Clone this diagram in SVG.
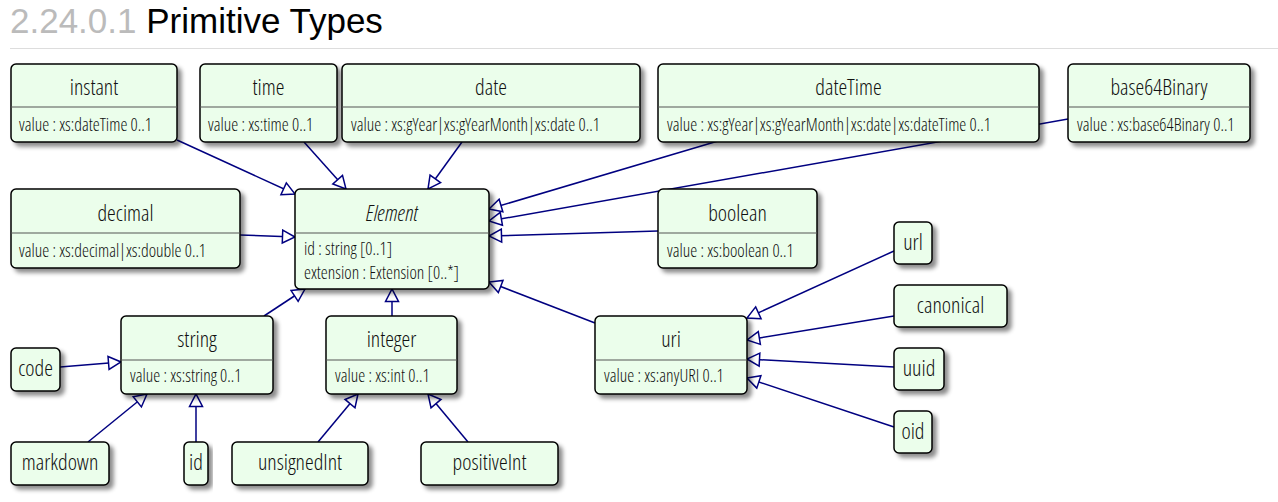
<svg xmlns="http://www.w3.org/2000/svg" width="1278" height="502" viewBox="0 0 1278 502">
  <style>
    .box { fill: #ebfeeb; stroke: #000; stroke-width: 1.5; filter: url(#shadow); }
    .sep { stroke: #555; stroke-width: 1.2; }
    .nm { font-family: "Open Sans", "DejaVu Sans Condensed", sans-serif; font-stretch: condensed; font-weight: 300; font-size: 22px; fill: #111; text-anchor: middle; }
    .at { font-family: "Open Sans", "DejaVu Sans Condensed", sans-serif; font-stretch: condensed; font-weight: 300; font-size: 17.6px; fill: #111; }
    .it { font-style: italic; }
    .gen { fill: none; stroke: #000080; stroke-width: 1.5; marker-end: url(#tri); }
    .title { font-family: "Liberation Sans", Arial, sans-serif; font-size: 35px; }
  </style>
  <defs>
    <filter id="shadow" x="-10%" y="-10%" width="130%" height="140%">
      <feDropShadow dx="4" dy="4" stdDeviation="2" flood-color="#000" flood-opacity="0.45"/>
    </filter>
    <marker id="tri" markerUnits="userSpaceOnUse" viewBox="0 0 16 16" markerWidth="16" markerHeight="16" refX="14" refY="8" orient="auto">
      <path d="M1.5,1.5 L14,8 L1.5,14.5 Z" fill="#fff" stroke="#000080" stroke-width="1.5" stroke-linejoin="miter"/>
    </marker>
  </defs>

  <rect width="1278" height="502" fill="#fff"/>

  <!-- heading -->
  <text class="title" x="10" y="33"><tspan fill="#bbb">2.24.0.1</tspan><tspan fill="#000"> Primitive Types</tspan></text>
  <line x1="10" y1="48.5" x2="1278" y2="48.5" stroke="#ddd" stroke-width="1"/>

  <!-- generalisation connectors -->
  <g id="connectors">
    <line class="gen" x1="177" y1="140" x2="295" y2="194"/>
    <line class="gen" x1="304" y1="142" x2="346" y2="189"/>
    <line class="gen" x1="462" y1="142" x2="428" y2="189"/>
    <line class="gen" x1="718" y1="141" x2="489" y2="209"/>
    <line class="gen" x1="1068" y1="119" x2="489" y2="221"/>
    <line class="gen" x1="240" y1="235" x2="295" y2="237"/>
    <line class="gen" x1="658" y1="231" x2="489" y2="236"/>
    <line class="gen" x1="595" y1="323" x2="489" y2="282"/>
    <line class="gen" x1="264" y1="316" x2="305" y2="289"/>
    <line class="gen" x1="392" y1="316" x2="392" y2="289"/>
    <line class="gen" x1="60" y1="367" x2="121" y2="362"/>
    <line class="gen" x1="88" y1="442" x2="147" y2="394"/>
    <line class="gen" x1="196" y1="442" x2="196" y2="394"/>
    <line class="gen" x1="318" y1="442" x2="358" y2="394"/>
    <line class="gen" x1="468" y1="442" x2="428" y2="394"/>
    <line class="gen" x1="894" y1="251" x2="747" y2="318"/>
    <line class="gen" x1="894" y1="316" x2="747" y2="340"/>
    <line class="gen" x1="894" y1="367" x2="747" y2="359"/>
    <line class="gen" x1="894" y1="427" x2="747" y2="378"/>
  </g>

  <!-- classes with a value attribute -->
  <g id="instant">
    <rect class="box" x="11" y="64" width="166" height="78" rx="5"/>
    <line class="sep" x1="11" y1="107" x2="177" y2="107"/>
    <text class="nm" x="94" y="95">instant</text>
    <text class="at" x="19" y="131">value : xs:dateTime 0..1</text>
  </g>
  <g id="time">
    <rect class="box" x="200" y="64" width="137" height="78" rx="5"/>
    <line class="sep" x1="200" y1="107" x2="337" y2="107"/>
    <text class="nm" x="268.5" y="95">time</text>
    <text class="at" x="208" y="131">value : xs:time 0..1</text>
  </g>
  <g id="date">
    <rect class="box" x="342" y="64" width="298" height="78" rx="5"/>
    <line class="sep" x1="342" y1="107" x2="640" y2="107"/>
    <text class="nm" x="491" y="95">date</text>
    <text class="at" x="351" y="131">value : xs:gYear|xs:gYearMonth|xs:date 0..1</text>
  </g>
  <g id="dateTime">
    <rect class="box" x="658" y="64" width="381" height="78" rx="5"/>
    <line class="sep" x1="658" y1="107" x2="1039" y2="107"/>
    <text class="nm" x="848.5" y="95">dateTime</text>
    <text class="at" x="667" y="131">value : xs:gYear|xs:gYearMonth|xs:date|xs:dateTime 0..1</text>
  </g>
  <g id="base64Binary">
    <rect class="box" x="1068" y="64" width="182" height="78" rx="5"/>
    <line class="sep" x1="1068" y1="107" x2="1250" y2="107"/>
    <text class="nm" x="1159" y="95">base64Binary</text>
    <text class="at" x="1077" y="131">value : xs:base64Binary 0..1</text>
  </g>
  <g id="decimal">
    <rect class="box" x="11" y="189" width="229" height="79" rx="5"/>
    <line class="sep" x1="11" y1="233" x2="240" y2="233"/>
    <text class="nm" x="125.5" y="221">decimal</text>
    <text class="at" x="19" y="257">value : xs:decimal|xs:double 0..1</text>
  </g>
  <g id="Element">
    <rect class="box" x="295" y="189" width="194" height="100" rx="5"/>
    <line class="sep" x1="295" y1="233" x2="489" y2="233"/>
    <text class="nm it" x="392" y="221">Element</text>
    <text class="at" x="304" y="255">id : string [0..1]</text>
    <text class="at" x="304" y="279">extension : Extension [0..*]</text>
  </g>
  <g id="boolean">
    <rect class="box" x="658" y="189" width="159" height="79" rx="5"/>
    <line class="sep" x1="658" y1="233" x2="817" y2="233"/>
    <text class="nm" x="737.5" y="221">boolean</text>
    <text class="at" x="667" y="257">value : xs:boolean 0..1</text>
  </g>
  <g id="uri">
    <rect class="box" x="595" y="316" width="152" height="78" rx="5"/>
    <line class="sep" x1="595" y1="360" x2="747" y2="360"/>
    <text class="nm" x="671" y="347">uri</text>
    <text class="at" x="604" y="382">value : xs:anyURI 0..1</text>
  </g>
  <g id="string">
    <rect class="box" x="121" y="316" width="152" height="78" rx="5"/>
    <line class="sep" x1="121" y1="360" x2="273" y2="360"/>
    <text class="nm" x="197" y="347">string</text>
    <text class="at" x="130" y="382">value : xs:string 0..1</text>
  </g>
  <g id="integer">
    <rect class="box" x="326" y="316" width="131" height="78" rx="5"/>
    <line class="sep" x1="326" y1="360" x2="457" y2="360"/>
    <text class="nm" x="391.5" y="347">integer</text>
    <text class="at" x="335" y="382">value : xs:int 0..1</text>
  </g>

  <!-- name-only classes -->
  <g id="url">
    <rect class="box" x="894" y="222" width="38" height="42" rx="5"/>
    <text class="nm" x="913" y="250">url</text>
  </g>
  <g id="canonical">
    <rect class="box" x="894" y="285" width="113" height="42" rx="5"/>
    <text class="nm" x="950.5" y="313">canonical</text>
  </g>
  <g id="uuid">
    <rect class="box" x="894" y="348" width="50" height="42" rx="5"/>
    <text class="nm" x="919" y="376">uuid</text>
  </g>
  <g id="oid">
    <rect class="box" x="894" y="411" width="38" height="42" rx="5"/>
    <text class="nm" x="913" y="439">oid</text>
  </g>
  <g id="code">
    <rect class="box" x="11" y="348" width="49" height="43" rx="5"/>
    <text class="nm" x="35.5" y="376">code</text>
  </g>
  <g id="markdown">
    <rect class="box" x="11" y="442" width="98" height="43" rx="5"/>
    <text class="nm" x="60" y="470">markdown</text>
  </g>
  <g id="id">
    <rect class="box" x="184" y="442" width="24" height="43" rx="5"/>
    <text class="nm" x="196" y="470">id</text>
  </g>
  <g id="unsignedInt">
    <rect class="box" x="232" y="442" width="136" height="43" rx="5"/>
    <text class="nm" x="300" y="470">unsignedInt</text>
  </g>
  <g id="positiveInt">
    <rect class="box" x="421" y="442" width="137" height="43" rx="5"/>
    <text class="nm" x="489.5" y="470">positiveInt</text>
  </g>
</svg>
